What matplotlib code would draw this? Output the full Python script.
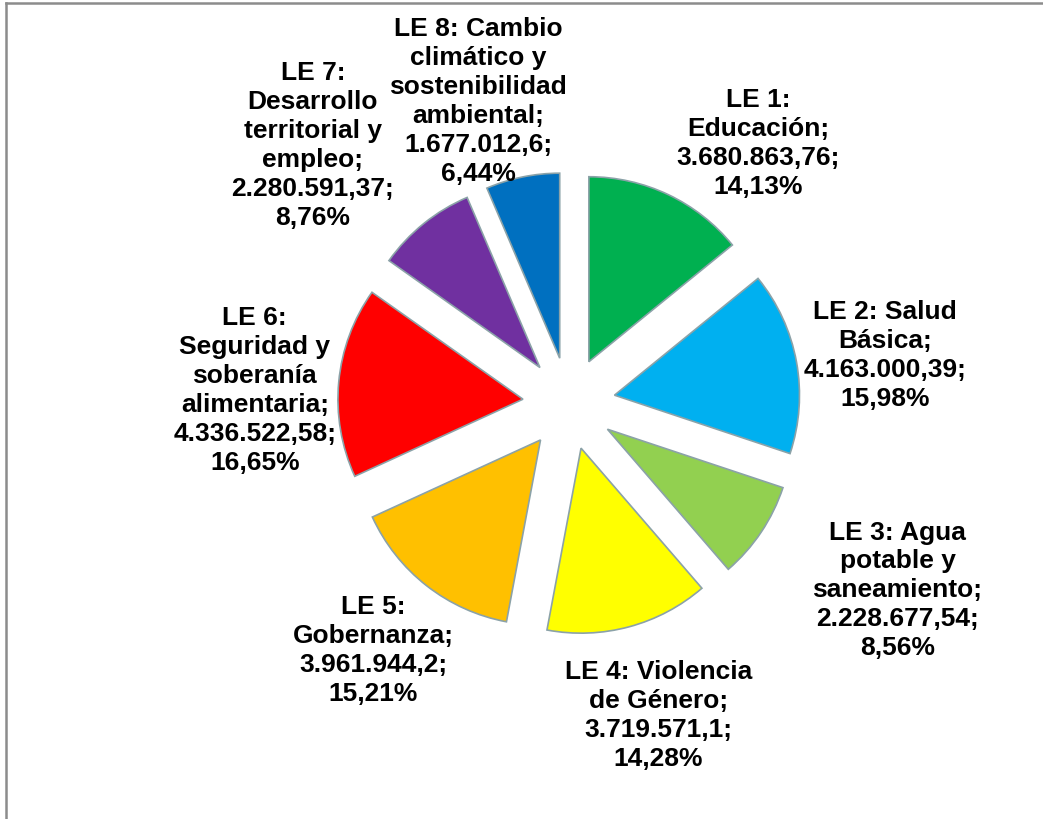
import matplotlib.pyplot as plt
import numpy as np
from matplotlib.lines import Line2D

# data
categories = [
    "LE 1:\nEducación;",
    "LE 2: Salud\nBásica;",
    "LE 3: Agua\npotable y\nsaneamiento;",
    "LE 4: Violencia\nde Género;",
    "LE 5:\nGobernanza;",
    "LE 6:\nSeguridad y\nsoberanía\nalimentaria;",
    "LE 7:\nDesarrollo\nterritorial y\nempleo;",
    "LE 8: Cambio\nclimático y\nsostenibilidad\nambiental;",
]
values = [3680863.76, 4163000.39, 2228677.54, 3719571.1,
          3961944.2, 4336522.58, 2280591.37, 1677012.6]
value_text = ["3.680.863,76", "4.163.000,39", "2.228.677,54", "3.719.571,1",
              "3.961.944,2", "4.336.522,58", "2.280.591,37", "1.677.012,6"]
colors = ["#00B050", "#00B0F0", "#92D050", "#FFFF00",
          "#FFC000", "#FF0000", "#7030A0", "#0070C0"]

# layout: label distance (in radii from pie centre) and angular nudge (deg)
label_dist = [1.74, 1.73, 2.04, 1.75, 1.70, 1.70, 1.97, 1.71]
label_turn = [-10.5, -1.5, 4.3, 0.9, -0.5, 2.8, 5.7, 5.1]

W, H = 1043, 820
CX, CY, R = 569, 415.5, 185  # pixels, y from bottom
EXPLODE = 0.25


def pct_text(v):
    p = v / sum(values) * 100
    return f"{p:.2f}%".replace(".", ",")


def main():
    fig = plt.figure(figsize=(W / 100, H / 100), dpi=100)
    ax = fig.add_axes([0, 0, 1, 1])

    wedges, _ = ax.pie(values, colors=colors, startangle=90, counterclock=False,
                       explode=[EXPLODE] * len(values), radius=1,
                       wedgeprops=dict(edgecolor="#8BA2A8", linewidth=1.2))

    for i, w in enumerate(wedges):
        mid = np.deg2rad((w.theta1 + w.theta2) / 2 + label_turn[i])
        x = label_dist[i] * np.cos(mid)
        y = label_dist[i] * np.sin(mid)
        text = f"{categories[i]}\n{value_text[i]};\n{pct_text(values[i])}"
        ax.text(x, y, text, ha="center", va="center", multialignment="center",
                fontsize=19, fontweight="bold", family="Liberation Sans",
                linespacing=1.26, color="black")

    ax.set_xlim(-CX / R, (W - CX) / R)
    ax.set_ylim(-CY / R, (H - CY) / R)
    ax.set_aspect("auto")
    ax.axis("off")

    # chart frame (top and left edges visible)
    fig.add_artist(Line2D([6 / W, 6 / W], [0, 1 - 4 / H], color="#8C8C8C", lw=1.8))
    fig.add_artist(Line2D([6 / W, 1], [1 - 4 / H, 1 - 4 / H], color="#8C8C8C", lw=1.8))

    fig.savefig("out.png", dpi=100)


if __name__ == "__main__":
    main()
